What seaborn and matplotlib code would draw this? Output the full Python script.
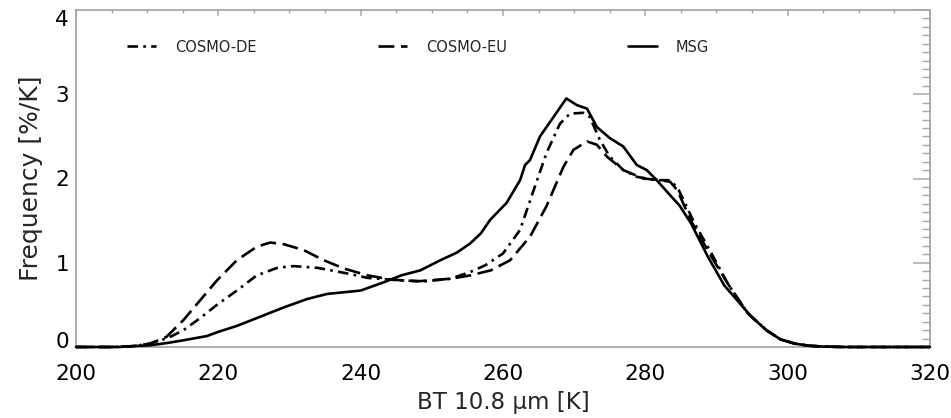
import numpy as np
import pandas as pd
import matplotlib
matplotlib.use("Agg")
import matplotlib.pyplot as plt
import matplotlib.transforms as mtransforms
import seaborn as sns
from matplotlib.ticker import MultipleLocator

models = ["COSMO-DE", "COSMO-EU", "MSG"]

bt_msg = [200, 203, 206, 208, 210.4, 213, 215.1, 218.4, 220, 222.6, 225.9, 229.2, 232.5,
          235.3, 240, 243.3, 245.7, 248.4, 251.2, 253.5, 255.4, 256.9, 258.2, 260.5, 262.4,
          263.1, 263.8, 265.2, 267.1, 268.9, 270.4, 271.8, 273.2, 275.0, 276.9, 278.8, 280.2,
          281.6, 283.5, 284.8, 286.4, 288.8, 291.1, 294.9, 297, 299, 301, 303, 305, 308, 312,
          316, 320]
freq_msg = [0, 0, 0, 0.01, 0.02, 0.05, 0.08, 0.13, 0.18, 0.25, 0.36, 0.47, 0.57,
            0.63, 0.67, 0.77, 0.85, 0.91, 1.03, 1.12, 1.23, 1.35, 1.51, 1.71, 1.98,
            2.16, 2.22, 2.50, 2.73, 2.95, 2.87, 2.83, 2.61, 2.48, 2.38, 2.16, 2.10,
            1.98, 1.80, 1.68, 1.47, 1.07, 0.73, 0.36, 0.20, 0.09, 0.04, 0.015, 0.005, 0, 0,
            0, 0]

bt_de = [200, 205, 208, 210.4, 213, 215.1, 217.4, 219.8, 222.6, 225.4, 228.3, 230.6, 233.9,
         237.7, 241, 245.7, 249, 252.6, 255.4, 257.5, 260, 262.4, 264.3, 266.1, 268, 269.4,
         271.3, 272.2, 273.6, 275, 276.9, 278.8, 281.6, 283.5, 284.6, 286.9, 289.3, 291.6,
         294.4, 297, 299, 301, 303, 305, 308, 320]
freq_de = [0, 0, 0.01, 0.04, 0.11, 0.20, 0.34, 0.50, 0.67, 0.85, 0.94, 0.96, 0.94,
           0.88, 0.82, 0.79, 0.78, 0.81, 0.89, 0.97, 1.11, 1.39, 1.86, 2.30, 2.65, 2.77,
           2.78, 2.73, 2.46, 2.26, 2.10, 2.02, 1.98, 1.98, 1.88, 1.47, 1.11, 0.75,
           0.40, 0.20, 0.09, 0.04, 0.015, 0.005, 0, 0]

bt_eu = [200, 205, 208, 210.4, 212.7, 215.1, 217.4, 219.8, 222.6, 225.4, 227.3, 229.2, 232,
         234.8, 237.7, 241, 244.3, 248, 252.6, 255.4, 258.3, 261, 263.8, 266.1, 268.5, 269.9,
         271.8, 273.2, 274.6, 276.9, 279.7, 282.2, 283.5, 284.5, 286.4, 289.3, 291.6, 294.4,
         297, 299, 301, 303, 305, 308, 320]
freq_eu = [0, 0, 0.01, 0.04, 0.12, 0.32, 0.55, 0.79, 1.03, 1.19, 1.24, 1.22, 1.15,
           1.03, 0.93, 0.85, 0.80, 0.78, 0.81, 0.85, 0.91, 1.03, 1.31, 1.67, 2.14, 2.34,
           2.44, 2.40, 2.26, 2.10, 2.00, 1.98, 1.96, 1.86, 1.50, 1.07, 0.75, 0.40, 0.20,
           0.09, 0.04, 0.015, 0.005, 0, 0]

x_ticks = [200, 220, 240, 260, 280, 300, 320]
y_ticks = [0, 1, 2, 3, 4]

df = pd.concat([
    pd.DataFrame({"bt": bt_de, "freq": freq_de, "model": "COSMO-DE"}),
    pd.DataFrame({"bt": bt_eu, "freq": freq_eu, "model": "COSMO-EU"}),
    pd.DataFrame({"bt": bt_msg, "freq": freq_msg, "model": "MSG"}),
], ignore_index=True)

sns.set_style("white")
plt.rcParams["font.family"] = ["DejaVu Sans"]

fig = plt.figure(figsize=(9.51, 4.18), dpi=100)
ax = fig.add_axes([76 / 951, 1 - 347 / 418, (930 - 76) / 951, (347 - 10) / 418])

dashes = {"COSMO-DE": (4, 2, 1, 2), "COSMO-EU": (6, 2.5), "MSG": ""}
sns.lineplot(data=df, x="bt", y="freq", style="model", style_order=models,
             dashes=dashes, color="black", linewidth=1.9, estimator=None,
             legend=False, ax=ax)
for ln in ax.lines:
    ln.set_clip_on(False)
    ln.set_zorder(3)
    ln.set_solid_joinstyle("round")

ax.set_xlim(200, 320)
ax.set_ylim(0, 4)
ax.set_xticks(x_ticks)
ax.set_yticks(y_ticks)
ax.xaxis.set_minor_locator(MultipleLocator(5))
ax.yaxis.set_minor_locator(MultipleLocator(0.1))

gray = "#a8a8a8"
for s in ax.spines.values():
    s.set_color(gray)
    s.set_linewidth(1.3)

ax.tick_params(axis="both", which="both", direction="in", color=gray,
               top=True, right=True, labelcolor="black")
ax.tick_params(axis="x", which="major", length=4.5, width=1.1, labelsize=15.5, pad=12)
ax.tick_params(axis="x", which="minor", length=2.3, width=1.0)
ax.tick_params(axis="y", which="major", length=12, width=1.1, labelsize=15.5, pad=5)
ax.tick_params(axis="y", which="minor", length=6, width=1.0)

ax.set_xlabel("BT 10.8 µm [K]", fontsize=16.5, labelpad=5)
ax.set_ylabel("Frequency [%/K]", fontsize=18, labelpad=9)

ax.legend(handles=ax.lines, labels=models, ncol=3, frameon=False,
          loc="center left", bbox_to_anchor=((127 - 76) / 854, (347 - 47) / 337),
          fontsize=10.5, handlelength=2.0, handletextpad=1.3, columnspacing=8.3,
          borderpad=0, borderaxespad=0)

# end labels of the y axis sit slightly inside the axis range
yt = ax.yaxis.get_major_ticks()
yt[0].label1.set_transform(yt[0].label1.get_transform()
                           + mtransforms.ScaledTranslation(0, 0.07, fig.dpi_scale_trans))
yt[-1].label1.set_transform(yt[-1].label1.get_transform()
                            + mtransforms.ScaledTranslation(0, -0.08, fig.dpi_scale_trans))

fig.savefig("out.png", dpi=100)
